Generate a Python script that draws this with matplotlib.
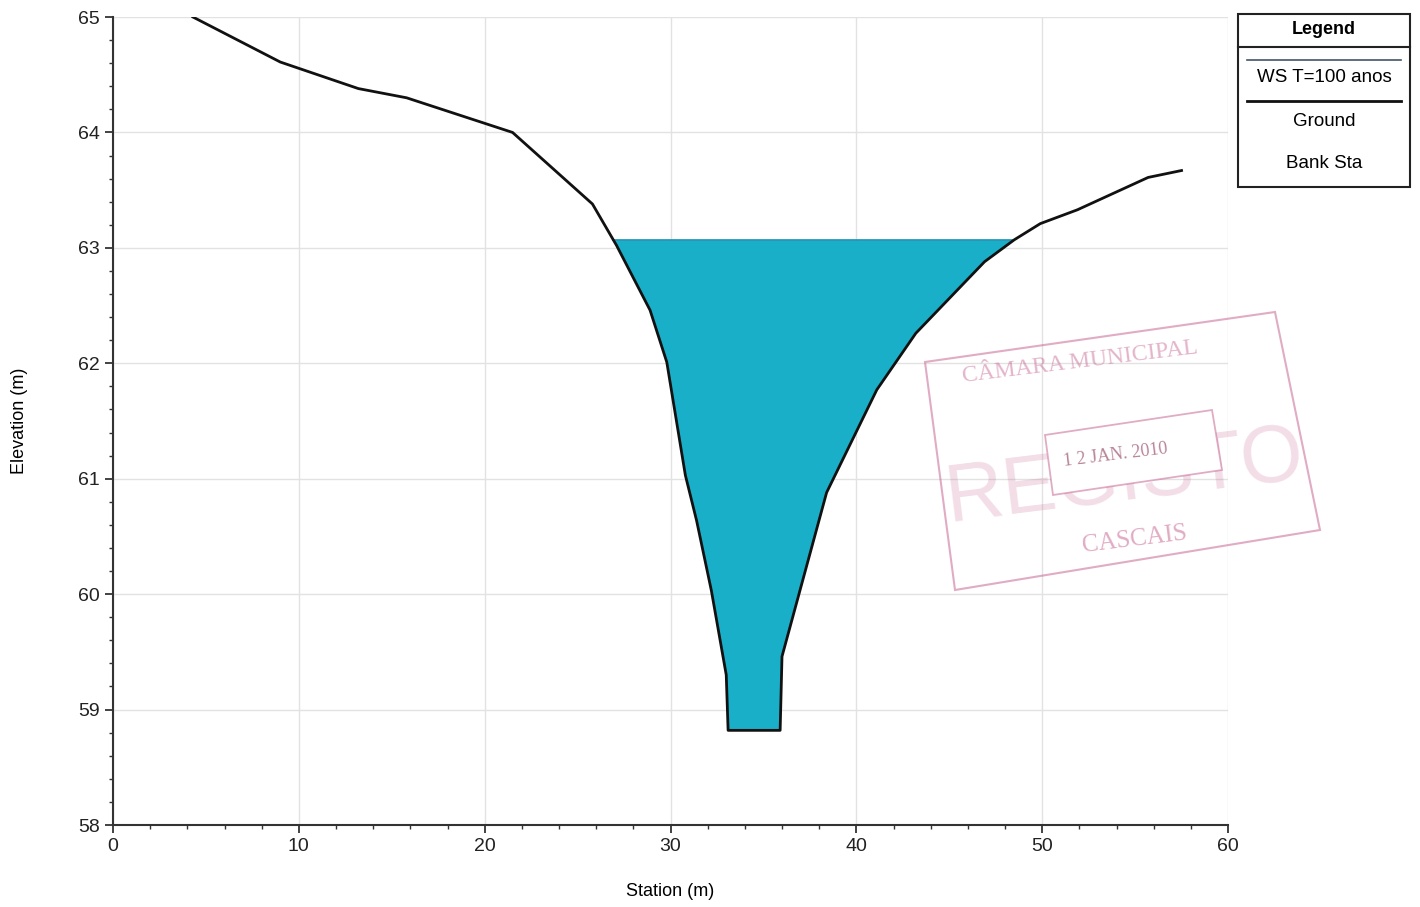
import matplotlib
matplotlib.use("Agg")
import matplotlib.pyplot as plt
from matplotlib.patches import Polygon, Rectangle
from matplotlib.lines import Line2D
import numpy as np

# Data
station = [4.3, 9.0, 13.2, 15.8, 21.5, 25.8, 27.1, 28.9, 29.8, 30.8, 31.4, 32.2,
           33.0, 33.1, 35.9, 36.0, 38.4, 41.1, 43.2, 46.9, 48.5, 49.9, 51.9, 55.7, 57.5]
elevation = [65.0, 64.61, 64.38, 64.3, 64.0, 63.38, 63.02, 62.46, 62.01, 61.03, 60.64, 60.03,
             59.30, 58.82, 58.82, 59.46, 60.88, 61.77, 62.26, 62.88, 63.07, 63.21, 63.33, 63.61, 63.67]
ws_elev = 63.07
x_ticks = [0, 10, 20, 30, 40, 50, 60]
y_ticks = [58, 59, 60, 61, 62, 63, 64, 65]
legend_labels = ["WS T=100 anos", "Ground", "Bank Sta"]

plt.rcParams['font.family'] = ['Liberation Sans', 'DejaVu Sans']

fig = plt.figure(figsize=(14.2, 9.07), dpi=100)
ax = fig.add_axes([113/1420, 1-825/907, (1228-113)/1420, (825-17)/907])

st = np.array(station)
el = np.array(elevation)
xs = np.linspace(st.min(), st.max(), 4000)
gy = np.interp(xs, st, el)
ax.fill_between(xs, gy, ws_elev, where=gy <= ws_elev, color='#1aafc8', linewidth=0, zorder=2)
mask = gy <= ws_elev
xw = xs[mask]
ax.plot([xw.min(), xw.max()], [ws_elev, ws_elev], color='#1a8fb0', lw=1.2, zorder=3)
ax.plot(st, el, color='#111111', lw=2.0, zorder=4)

ax.set_xlim(0, 60)
ax.set_ylim(58, 65)
ax.set_xticks(x_ticks)
ax.set_yticks(y_ticks)
ax.set_xticks(np.arange(0, 61, 2), minor=True)
ax.set_yticks(np.arange(58, 65.01, 0.2), minor=True)
ax.grid(True, which='major', color='#e2e2e2', lw=1.0, zorder=0)
ax.tick_params(which='major', direction='out', length=6, width=1.2, labelsize=14, colors='#222222')
ax.tick_params(which='minor', direction='out', length=3, width=1.0, colors='#333333')
for s in ['top', 'right']:
    ax.spines[s].set_visible(False)
for s in ['left', 'bottom']:
    ax.spines[s].set_linewidth(1.5)
    ax.spines[s].set_color('#333333')
ax.set_xlabel('Station (m)', fontsize=13, labelpad=20)
ax.set_ylabel('Elevation (m)', fontsize=13, labelpad=36)

# Legend box (manual)
W, H = 1420, 907
def fx(x): return x / W
def fy(y): return 1 - y / H
fig.patches.append(Rectangle((fx(1238), fy(187)), fx(1410-1238), (187-14)/H,
                             transform=fig.transFigure, fill=False, ec='#222222', lw=1.5))
fig.lines.append(Line2D([fx(1238), fx(1410)], [fy(47), fy(47)], transform=fig.transFigure, color='#222222', lw=1.5))
fig.text(fx(1324), fy(30), 'Legend', ha='center', va='center', fontsize=13, fontweight='bold')
fig.lines.append(Line2D([fx(1247), fx(1401)], [fy(60), fy(60)], transform=fig.transFigure, color='#445566', lw=1.2))
fig.text(fx(1324), fy(78), legend_labels[0], ha='center', va='center', fontsize=13.5)
fig.lines.append(Line2D([fx(1247), fx(1401)], [fy(101), fy(101)], transform=fig.transFigure, color='#111111', lw=2.0))
fig.text(fx(1324), fy(121), legend_labels[1], ha='center', va='center', fontsize=13.5)
fig.text(fx(1324), fy(163), legend_labels[2], ha='center', va='center', fontsize=13.5)

# Stamp (faint)
pink = '#c25a8a'
stamp_ax = fig.add_axes([0, 0, 1, 1], facecolor='none')
stamp_ax.set_xlim(0, W); stamp_ax.set_ylim(H, 0); stamp_ax.axis('off')
corners = [(925, 362), (1275, 312), (1320, 530), (955, 590)]
stamp_ax.add_patch(Polygon(corners, closed=True, fill=False, ec=pink, lw=1.5, alpha=0.5))
stamp_ax.text(1125, 478, 'REGISTO', rotation=7, ha='center', va='center',
              fontsize=58, color=pink, alpha=0.2, family='Liberation Sans', zorder=2)
stamp_ax.add_patch(Polygon([(1045, 435), (1212, 410), (1222, 470), (1053, 495)], closed=True,
                           facecolor='white', ec='none', zorder=3))
stamp_ax.add_patch(Polygon([(1045, 435), (1212, 410), (1222, 470), (1053, 495)], closed=True,
                           fill=False, ec=pink, lw=1.3, alpha=0.5, zorder=3.5))
stamp_ax.text(1080, 362, 'CÂMARA MUNICIPAL', rotation=7, ha='center', va='center',
              fontsize=17, color=pink, alpha=0.45, family='Liberation Serif')
stamp_ax.text(1115, 455, '1 2 JAN. 2010', rotation=7, ha='center', va='center',
              fontsize=13, color='#883355', alpha=0.6, family='Liberation Serif', zorder=4)
stamp_ax.text(1135, 540, 'CASCAIS', rotation=7, ha='center', va='center',
              fontsize=18, color=pink, alpha=0.5, family='Liberation Serif')

fig.savefig('out.png', dpi=100)
